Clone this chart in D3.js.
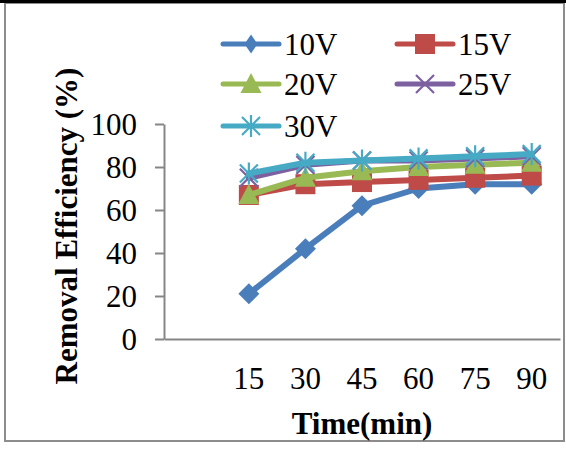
<!DOCTYPE html>
<html>
<head>
<meta charset="utf-8">
<script src="https://cdn.jsdelivr.net/npm/d3@7"></script>
<style>
  html, body { margin: 0; padding: 0; background: #fff; }
  svg { display: block; }
  text { font-family: "Liberation Serif", "Times New Roman", serif; fill: #000; }
</style>
</head>
<body>
<svg id="chart" width="566" height="450"></svg>
<script>
// ---- data ----
const categories = ["15", "30", "45", "60", "75", "90"];
const seriesNames = ["10V", "15V", "20V", "25V", "30V"];
const v10 = [21, 42, 62, 70, 72, 72];
const v15 = [67, 72, 73, 74, 75, 76];
const v20 = [67, 75, 78, 80, 81, 82];
const v25 = [75, 81, 83, 83, 84, 85];
const v30 = [77, 82, 83, 84, 85, 86];
const yTicks = [0, 20, 40, 60, 80, 100];
const xTitle = "Time(min)";
const yTitle = "Removal Efficiency (%)";

const colors = ["#4A7EBB", "#BE4B48", "#98B954", "#7D60A0", "#46AAC5"];
const markers = ["diamond", "square", "triangle", "x", "star"];
const seriesValues = [v10, v15, v20, v25, v30];

const svg = d3.select("#chart");

// frame
svg.append("rect").attr("x", 5).attr("y", 3).attr("width", 559).attr("height", 438)
  .attr("fill", "#fff").attr("stroke", "#8c8c8c").attr("stroke-width", 2);
svg.append("line").attr("x1", 0).attr("x2", 566).attr("y1", 1.5).attr("y2", 1.5)
  .attr("stroke", "#000").attr("stroke-width", 3);

const plot = { left: 164, right: 560, top: 124, bottom: 339 };

const x = d3.scaleBand().domain([""].concat(categories)).range([plot.left, plot.right]).padding(0);
const cx = c => x(c) + x.bandwidth() / 2;
const y = d3.scaleLinear().domain([0, 100]).range([plot.bottom, plot.top]);

const axisColor = "#868686";

// y axis
const gy = svg.append("g").attr("transform", `translate(${plot.left},0)`)
  .call(d3.axisLeft(y).tickValues(yTicks).tickSize(9).tickSizeOuter(0).tickPadding(18));
gy.select(".domain").attr("stroke", axisColor).attr("stroke-width", 2);
gy.selectAll(".tick line").attr("stroke", axisColor).attr("stroke-width", 2);
gy.selectAll(".tick text").attr("font-size", 31).attr("font-family", "Liberation Serif").attr("dy", "0.34em");

// x axis
const gx = svg.append("g").attr("transform", `translate(0,${plot.bottom})`)
  .call(d3.axisBottom(x).tickSize(0).tickSizeOuter(0).tickPadding(0));
gx.select(".domain").attr("stroke", axisColor).attr("stroke-width", 2);
gx.selectAll(".tick text").attr("font-size", 31).attr("font-family", "Liberation Serif")
  .attr("y", 50).attr("dy", 0);

// titles
svg.append("text").attr("x", 362).attr("y", 434).attr("text-anchor", "middle")
  .attr("font-size", 31).attr("font-weight", "bold").text(xTitle);
svg.append("text").attr("transform", "translate(66,226) rotate(-90)")
  .attr("text-anchor", "middle").attr("dominant-baseline", "central")
  .attr("font-size", 31).attr("font-weight", "bold").text(yTitle);

// marker drawing
function drawMarker(g, type, color, px, py, narrow) {
  if (type === "diamond") {
    const hw = narrow ? 6.5 : 10.5, hh = narrow ? 9.5 : 10.5;
    g.append("path").attr("d", `M${px},${py-hh}L${px+hw},${py}L${px},${py+hh}L${px-hw},${py}Z`).attr("fill", color);
  } else if (type === "square") {
    g.append("rect").attr("x", px-10).attr("y", py-10).attr("width", 20).attr("height", 20).attr("fill", color);
  } else if (type === "triangle") {
    g.append("path").attr("d", `M${px},${py-11}L${px+10.5},${py+9}L${px-10.5},${py+9}Z`).attr("fill", color);
  } else if (type === "x") {
    g.append("path").attr("d", `M${px-9},${py-9}L${px+9},${py+9}M${px-9},${py+9}L${px+9},${py-9}`)
      .attr("stroke", color).attr("stroke-width", 2.2);
  } else if (type === "star") {
    g.append("path").attr("d", `M${px-9},${py-9}L${px+9},${py+9}M${px-9},${py+9}L${px+9},${py-9}M${px},${py-11}L${px},${py+11}`)
      .attr("stroke", color).attr("stroke-width", 2.2);
  }
}

const line = d3.line().x((d, i) => cx(categories[i])).y(d => y(d));

seriesValues.forEach((vals, s) => {
  const g = svg.append("g");
  g.append("path").datum(vals).attr("d", line).attr("fill", "none")
    .attr("stroke", colors[s]).attr("stroke-width", 6).attr("stroke-linejoin", "round").attr("stroke-linecap", "round");
  vals.forEach((v, i) => drawMarker(g, markers[s], colors[s], cx(categories[i]), y(v), false));
});

// legend
const legendPos = [[223, 44], [397, 44], [223, 84], [397, 84], [223, 126]];
seriesNames.forEach((name, s) => {
  const [lx, ly] = legendPos[s];
  const g = svg.append("g");
  g.append("line").attr("x1", lx).attr("x2", lx + 56).attr("y1", ly).attr("y2", ly)
    .attr("stroke", colors[s]).attr("stroke-width", 5).attr("stroke-linecap", "round");
  drawMarker(g, markers[s], colors[s], lx + 28, ly, true);
  g.append("text").attr("x", lx + 61).attr("y", ly).attr("dy", "0.35em")
    .attr("font-size", 31).text(name);
});
</script>
</body>
</html>
